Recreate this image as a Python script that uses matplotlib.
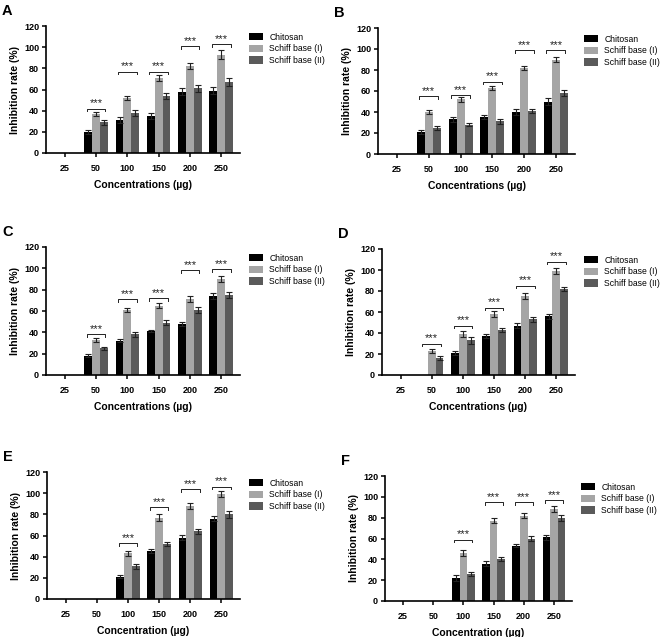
import numpy as np
import matplotlib as mpl
mpl.use('Agg')
import matplotlib.pyplot as plt

plt.rcParams['font.family'] = ['Liberation Sans', 'DejaVu Sans']

categories = ['25', '50', '100', '150', '200', '250']
series = ['Chitosan', 'Schiff base (I)', 'Schiff base (II)']
colors = ['#000000', '#a5a5a5', '#5a5a5a']
panels = ['A', 'B', 'C', 'D', 'E', 'F']
xlabels = ['Concentrations (\u00b5g)'] * 4 + ['Concentration (\u00b5g)'] * 2

# mean values per panel: [chitosan, SB I, SB II]
values = {
    'A': [[0, 20, 31, 35, 58, 59], [0, 37, 52, 71, 82, 93], [0, 29, 38, 54, 61, 67]],
    'B': [[0, 21, 33, 35, 40, 50], [0, 40, 52, 63, 82, 90], [0, 25, 28, 31, 41, 58]],
    'C': [[0, 18, 32, 41, 48, 74], [0, 33, 61, 65, 71, 90], [0, 25, 38, 49, 61, 75]],
    'D': [[0, 0, 21, 37, 47, 56], [0, 23, 39, 58, 75, 99], [0, 16, 33, 43, 53, 82]],
    'E': [[0, 0, 21, 45, 58, 76], [0, 0, 43, 77, 88, 99], [0, 0, 31, 52, 64, 80]],
    'F': [[0, 0, 22, 36, 53, 61], [0, 0, 46, 77, 82, 88], [0, 0, 26, 40, 60, 80]],
}
errors = {
    'A': [[0, 2, 3, 2.5, 3, 3], [0, 2, 2, 3, 3, 4], [0, 2.5, 3, 3, 3.5, 3.5]],
    'B': [[0, 1.5, 2.5, 2, 3, 3], [0, 1.5, 2, 2, 2, 2.5], [0, 2, 1.5, 2, 1.5, 2.5]],
    'C': [[0, 1.5, 1.5, 1, 2, 2.5], [0, 2, 2, 2.5, 3, 3], [0, 1.5, 2.5, 2.5, 2.5, 3]],
    'D': [[0, 0, 1.5, 2, 2.5, 2.5], [0, 2, 2.5, 2.5, 3, 3], [0, 2, 3, 2, 2.5, 2]],
    'E': [[0, 0, 1.5, 2, 2.5, 2.5], [0, 0, 2.5, 3.5, 2.5, 3], [0, 0, 2.5, 2, 2.5, 3.5]],
    'F': [[0, 0, 3, 2, 1.5, 2.5], [0, 0, 3, 2.5, 2.5, 3], [0, 0, 2, 2, 2, 3]],
}
# height of the "***" brackets (nan = none)
brackets = {
    'A': [np.nan, 42, 77, 77, 101, 103],
    'B': [np.nan, 55, 56, 69, 99, 99],
    'C': [np.nan, 38, 71, 72, 98, 99],
    'D': [np.nan, 30, 47, 64, 85, 108],
    'E': [np.nan, np.nan, 53, 87, 104, 106],
    'F': [np.nan, np.nan, 59, 95, 95, 97],
}

W, H = 660, 637
# axes boxes in pixels: left, top, right, bottom
boxes = {
    'A': (46, 26, 240, 153),
    'B': (378, 28, 575, 154),
    'C': (46, 247, 240, 375),
    'D': (382, 249, 575, 375),
    'E': (47, 472, 240, 599),
    'F': (385, 476, 572, 601),
}

fig = plt.figure(figsize=(W / 100, H / 100), dpi=100)

x = np.arange(len(categories))
bw = 0.25
for p, xl in zip(panels, xlabels):
    l, t, r, b = boxes[p]
    ax = fig.add_axes([l / W, 1 - b / H, (r - l) / W, (b - t) / H])

    for i, (name, col) in enumerate(zip(series, colors)):
        v = np.array(values[p][i], dtype=float)
        e = np.array(errors[p][i], dtype=float)
        xs = x + (i - 1) * bw
        ax.bar(xs, v, bw, color=col, linewidth=0, label=name)
        m = v > 0
        ax.errorbar(xs[m], v[m], yerr=e[m], fmt='none', ecolor='#222222',
                    elinewidth=0.8, capsize=2, capthick=0.8)

    # significance brackets
    for xi, h in zip(x, brackets[p]):
        if np.isnan(h):
            continue
        ax.plot([xi - 0.3, xi - 0.3, xi + 0.3, xi + 0.3],
                [h - 2.5, h, h, h - 2.5], color='#222222', lw=0.7,
                clip_on=False)
        ax.text(xi, h + 0.3, '***', ha='center', va='bottom', fontsize=8,
                color='#222222')

    ax.set_xlim(-0.6, 5.6)
    ax.set_ylim(0, 120)
    ax.set_yticks(range(0, 121, 20))
    ax.set_xticks(x)
    ax.set_xticklabels(categories)
    for s in ['top', 'right']:
        ax.spines[s].set_visible(False)
    for s in ['left', 'bottom']:
        ax.spines[s].set_linewidth(1.2)
    ax.tick_params(direction='out', length=3, width=1.1, labelsize=6.5, pad=2)
    for lab in ax.get_xticklabels() + ax.get_yticklabels():
        lab.set_fontweight('bold')
    ax.tick_params(axis='x', pad=5)

    ax.set_ylabel('Inhibition rate (%)', fontsize=7.5, fontweight='bold',
                  labelpad=3)
    ax.set_xlabel(xl, fontsize=7.5, fontweight='bold', labelpad=5)

    ax.legend(loc='upper left', bbox_to_anchor=(1.025, 0.98), frameon=False,
              fontsize=6.2, handlelength=1.6, handleheight=0.9,
              handletextpad=0.75, labelspacing=0.3, borderpad=0)

    fig.text((l - 44) / W, 1 - (t - 15) / H, p, fontsize=10.5,
             fontweight='bold', ha='left', va='center')

fig.savefig('out.png', dpi=100)
